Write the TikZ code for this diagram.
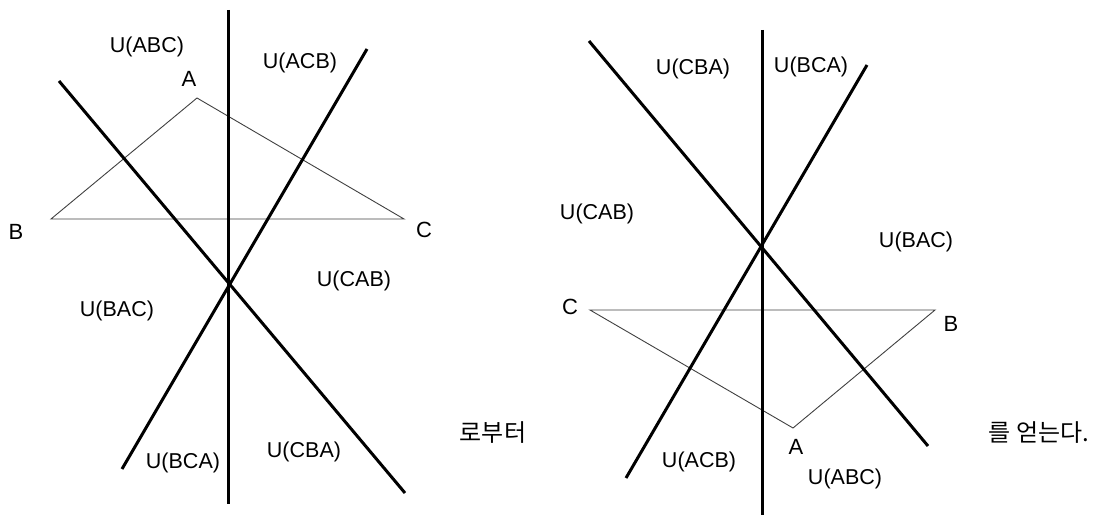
\documentclass[tikz,border=0pt]{standalone}
\usepackage{fontspec}
\setmainfont{Liberation Sans}
\newfontfamily\kr{Noto Sans CJK KR}

\begin{document}
\begin{tikzpicture}[x=1pt,y=-1pt,
    cut/.style={line width=3pt},
    tri/.style={line width=0.9pt,black!75},
    reg/.style={font=\fontsize{21.5}{25}\selectfont},
    vx/.style={font=\fontsize{22}{26}\selectfont},
    word/.style={font=\kr\fontsize{24}{28}\selectfont}]
\useasboundingbox (0,0) rectangle (1103,526);
% left picture
\coordinate (lvt) at (228.5,10);   \coordinate (lvb) at (228.5,504);
\coordinate (lat) at (59,81);      \coordinate (lab) at (405,493);
\coordinate (lbt) at (367,49);     \coordinate (lbb) at (122,469);
\coordinate (lA) at (197,98);
\coordinate (lB) at (51,219);
\coordinate (lC) at (404,219);
\draw[tri] (lA) -- (lB) -- (lC) -- cycle;
\draw[cut] (lvt) -- (lvb);
\draw[cut] (lat) -- (lab);
\draw[cut] (lbt) -- (lbb);
\node[vx] (lAl) at (189,79) {A};
\node[vx] (lBl) at (16,232) {B};
\node[vx] (lCl) at (424,230) {C};
\node[reg] (labc) at (147,47) {U(ABC)};
\node[reg] (lacb) at (300,63) {U(ACB)};
\node[reg] (lcab) at (354,281) {U(CAB)};
\node[reg] (lbac) at (117,311) {U(BAC)};
\node[reg] (lbca) at (183,463) {U(BCA)};
\node[reg] (lcba) at (304,452) {U(CBA)};
\node[word] (from) at (493,433) {로부터};
% right picture
\coordinate (rvt) at (762,30);     \coordinate (rvb) at (762,515);
\coordinate (rat) at (589,41);     \coordinate (rab) at (928,446);
\coordinate (rbt) at (867,65);     \coordinate (rbb) at (626,478);
\coordinate (rA) at (793,428);
\coordinate (rB) at (935,310);
\coordinate (rC) at (590,310);
\draw[tri] (rA) -- (rB) -- (rC) -- cycle;
\draw[cut] (rvt) -- (rvb);
\draw[cut] (rat) -- (rab);
\draw[cut] (rbt) -- (rbb);
\node[vx] (rAl) at (796,447) {A};
\node[vx] (rBl) at (951,324) {B};
\node[vx] (rCl) at (570,307) {C};
\node[reg] (rcba) at (693,69) {U(CBA)};
\node[reg] (rbca) at (811,67) {U(BCA)};
\node[reg] (rcab) at (597,214) {U(CAB)};
\node[reg] (rbac) at (916,242) {U(BAC)};
\node[reg] (racb) at (699,462) {U(ACB)};
\node[reg] (rabc) at (845,479) {U(ABC)};
\node[word] (get) at (1039,433) {를 얻는다.};
\end{tikzpicture}
\end{document}
